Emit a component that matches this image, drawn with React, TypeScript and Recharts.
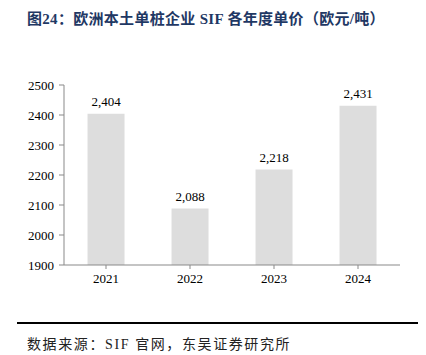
import React from 'react';
import { BarChart, Bar, XAxis, YAxis, LabelList } from 'recharts';

const years = ['2021', '2022', '2023', '2024'];
const prices = [2404, 2088, 2218, 2431];
const yTicks = [1900, 2000, 2100, 2200, 2300, 2400, 2500];

const data = years.map((y, i) => ({ year: y, price: prices[i] }));

const serif = '"Liberation Serif", "Times New Roman", "Noto Sans CJK SC", serif';

export default function App() {
  return (
    <div style={{ position: 'absolute', left: 0, top: 0, width: 426, height: 355, background: '#fff', fontFamily: serif }}>
      <div style={{ position: 'absolute', left: 27, top: 7, fontSize: 15, fontWeight: 'bold', letterSpacing: 0.3, color: '#1f3864', whiteSpace: 'nowrap', fontFamily: '"Liberation Serif", "Noto Sans CJK SC", serif' }}>
        图24：欧洲本土单桩企业 SIF 各年度单价（欧元/吨）
      </div>
      <div style={{ position: 'absolute', left: 0, top: 0 }}>
        <BarChart width={426} height={355} data={data} margin={{ top: 85, bottom: 60, left: 0, right: 26 }} barCategoryGap="28%">
          <XAxis dataKey="year" height={30} tickSize={4} tickMargin={5} stroke="#898989" tick={{ fill: '#000', fontSize: 13, fontFamily: serif }} />
          <YAxis width={64} domain={[1900, 2500]} ticks={yTicks} interval={0} tickSize={5} tickMargin={5} stroke="#898989" tick={{ fill: '#000', fontSize: 13, fontFamily: serif }} />
          <Bar dataKey="price" fill="#dddddd" isAnimationActive={false}>
            <LabelList dataKey="price" position="top" offset={8} formatter={(v: number) => v.toLocaleString('en-US')} style={{ fill: '#000', fontSize: 13, fontFamily: serif }} />
          </Bar>
        </BarChart>
      </div>
      <div style={{ position: 'absolute', left: 17, top: 322, width: 401, height: 1.5, background: '#000' }} />
      <div style={{ position: 'absolute', left: 27, top: 333, fontSize: 14, letterSpacing: 1.6, color: '#222', whiteSpace: 'nowrap', fontFamily: '"Liberation Serif", "Noto Sans CJK SC", serif' }}>
        数据来源：SIF 官网，东吴证券研究所
      </div>
    </div>
  );
}
